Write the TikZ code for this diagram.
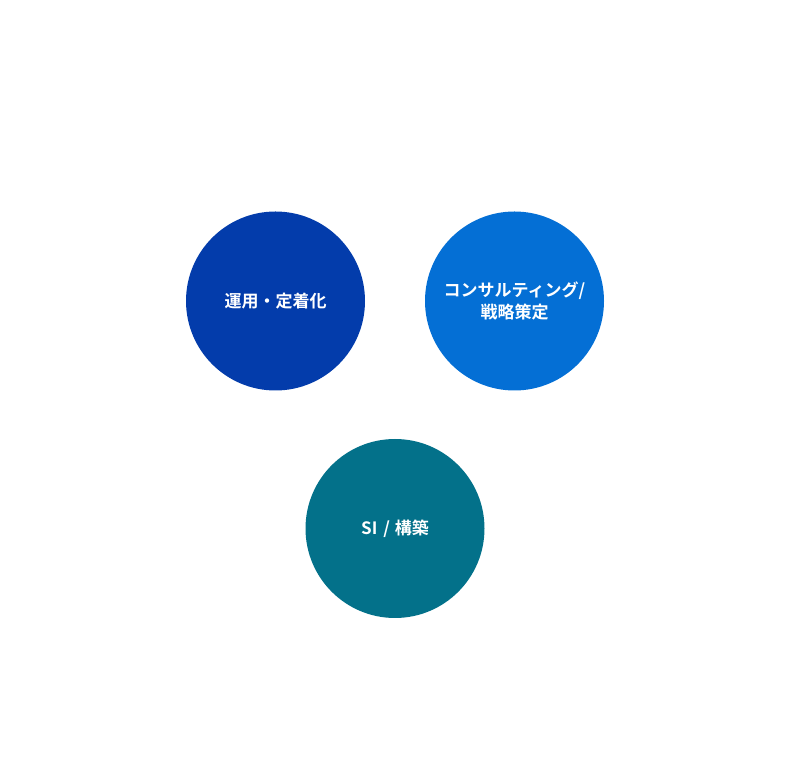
\documentclass[tikz,border=0pt]{standalone}
\usepackage{fontspec}
\setmainfont{Noto Sans CJK JP Bold}
\usepackage{tikz}
\definecolor{unyoblue}{HTML}{033CAB}
\definecolor{consblue}{HTML}{046FD5}
\definecolor{siteal}{HTML}{03718A}
\tikzset{
  svc/.style={circle, minimum size=179pt, inner sep=0pt, text=white, align=center, font=\fontsize{17}{22}\selectfont}
}

\begin{document}
\begin{tikzpicture}[x=1pt,y=1pt]
\useasboundingbox (0,0) rectangle (790,768);
\node[svc, fill=unyoblue] (unyo) at (275.5,467) {運用・定着化};
\node[svc, fill=consblue] (cons) at (514.5,467) {コンサルティング/\\戦略策定};
\node[svc, fill=siteal] (si) at (395,239.5) {SI\hspace{2pt} / \hspace{1pt}構築};
\end{tikzpicture}
\end{document}
